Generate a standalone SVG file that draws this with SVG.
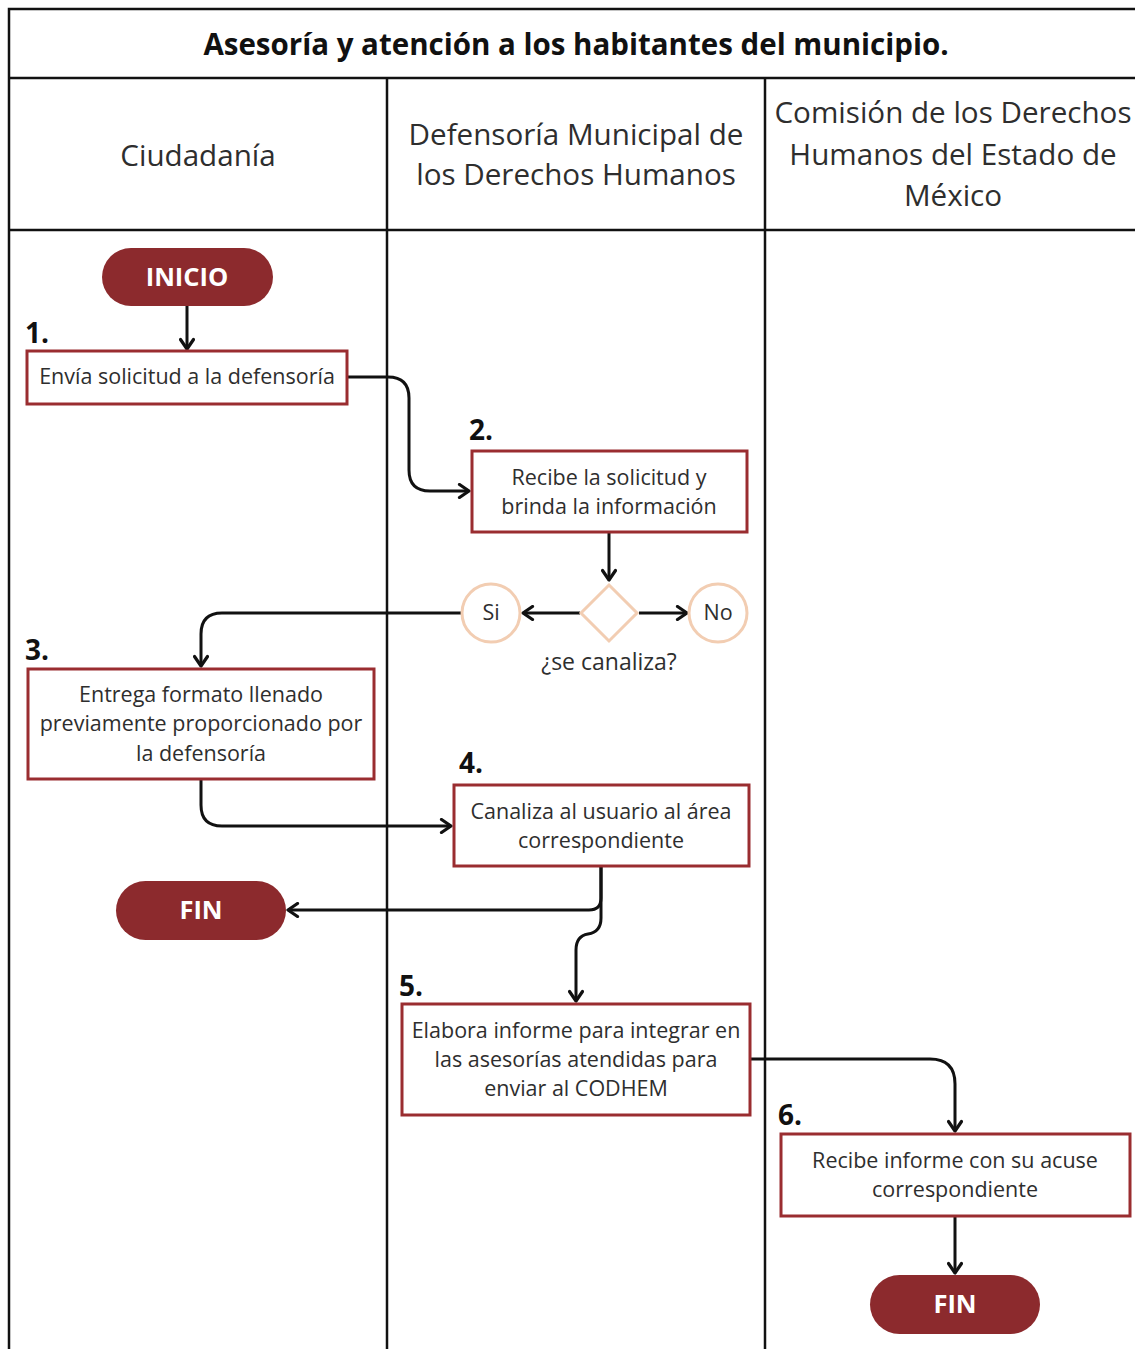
<svg xmlns="http://www.w3.org/2000/svg" width="1135" height="1349" viewBox="0 0 1135 1349">
<defs>
<style>
.frame{stroke:#111;stroke-width:2.5;fill:none}
.t{font-family:"Open Sans","Noto Sans","DejaVu Sans",sans-serif;fill:#2e2e2e}
.hdr{font-size:29.6px;text-anchor:middle}
.title{font-size:29.5px;font-weight:bold;text-anchor:middle;fill:#111}
.box{fill:#fff;stroke:#9a2d30;stroke-width:3}
.bt{font-size:21.5px;text-anchor:middle}
.num{font-size:28px;font-weight:bold;fill:#111}
.pill{fill:#8c2a2d}
.pt{font-size:25.5px;font-weight:bold;fill:#fff;text-anchor:middle}
.peach{fill:#fff;stroke:#f2cdb2;stroke-width:3}
.conn{fill:none;stroke:#111;stroke-width:3}
</style>
<marker id="ah" viewBox="0 0 14 16" refX="12" refY="8" markerWidth="14" markerHeight="16" markerUnits="userSpaceOnUse" orient="auto">
<path d="M2.5,1.5 L12,8 L2.5,14.5" fill="none" stroke="#111" stroke-width="3.2" stroke-linecap="round" stroke-linejoin="round"/>
</marker>
</defs>
<rect width="1135" height="1349" fill="#fff"/>
<g id="frame">
<path class="frame" d="M1135,9 H9 V1349 M9,78 H1135 M9,230 H1135 M387,78 V1349 M765,78 V1349"/>
<text class="t title" x="576" y="55">Asesoría y atención a los habitantes del municipio.</text>
<text class="t hdr" x="198" y="166">Ciudadanía</text>
<text class="t hdr" x="576" y="145">Defensoría Municipal de</text>
<text class="t hdr" x="576" y="185">los Derechos Humanos</text>
<text class="t hdr" x="953" y="123">Comisión de los Derechos</text>
<text class="t hdr" x="953" y="165">Humanos del Estado de</text>
<text class="t hdr" x="953" y="206">México</text>
</g>
<g id="connectors">
<path class="conn" d="M187,306 V349" marker-end="url(#ah)"/>
<path class="conn" d="M347,377 H388 Q409,377 409,398 V470 Q409,491 430,491 H469" marker-end="url(#ah)"/>
<path class="conn" d="M609,532 V580" marker-end="url(#ah)"/>
<path class="conn" d="M580,613 H523" marker-end="url(#ah)"/>
<path class="conn" d="M639,613 H687" marker-end="url(#ah)"/>
<path class="conn" d="M462,613 H222 Q201,613 201,634 V666" marker-end="url(#ah)"/>
<path class="conn" d="M201,779 V805 Q201,826 222,826 H451" marker-end="url(#ah)"/>
<path class="conn" d="M601,866 V898 Q601,910 589,910 H288" marker-end="url(#ah)"/>
<path class="conn" d="M601,866 V918 Q601,932 588,934 Q576,936 576,950 V1001" marker-end="url(#ah)"/>
<path class="conn" d="M750,1059 H930 Q955,1059 955,1084 V1131" marker-end="url(#ah)"/>
<path class="conn" d="M955,1216 V1273" marker-end="url(#ah)"/>
</g>
<g id="inicio">
<rect class="pill" x="102" y="248" width="171" height="58" rx="29"/>
<text class="t pt" x="187" y="286">INICIO</text>
</g>
<g id="step1">
<text class="t num" x="25" y="343">1.</text>
<rect class="box" x="27" y="351" width="320" height="53"/>
<text class="t bt" x="187" y="384">Envía solicitud a la defensoría</text>
</g>
<g id="step2">
<text class="t num" x="469" y="440">2.</text>
<rect class="box" x="472" y="451" width="275" height="81"/>
<text class="t bt" x="609" y="485">Recibe la solicitud y</text>
<text class="t bt" x="609" y="514">brinda la información</text>
</g>
<g id="decision">
<path class="peach" d="M609,585 L637,613 L609,641 L581,613 Z"/>
<text class="t bt" x="609" y="670" style="font-size:23px">¿se canaliza?</text>
</g>
<g id="si">
<circle class="peach" cx="491" cy="613" r="29"/>
<text class="t bt" x="491" y="620">Si</text>
</g>
<g id="no">
<circle class="peach" cx="718" cy="613" r="29"/>
<text class="t bt" x="718" y="620">No</text>
</g>
<g id="step3">
<text class="t num" x="25" y="660">3.</text>
<rect class="box" x="28" y="669" width="346" height="110"/>
<text class="t bt" x="201" y="702">Entrega formato llenado</text>
<text class="t bt" x="201" y="731">previamente proporcionado por</text>
<text class="t bt" x="201" y="761">la defensoría</text>
</g>
<g id="step4">
<text class="t num" x="459" y="773">4.</text>
<rect class="box" x="454" y="785" width="295" height="81"/>
<text class="t bt" x="601" y="819">Canaliza al usuario al área</text>
<text class="t bt" x="601" y="848">correspondiente</text>
</g>
<g id="fin1">
<rect class="pill" x="116" y="881" width="170" height="59" rx="29.5"/>
<text class="t pt" x="201" y="919">FIN</text>
</g>
<g id="step5">
<text class="t num" x="399" y="996">5.</text>
<rect class="box" x="402" y="1004" width="348" height="111"/>
<text class="t bt" x="576" y="1038">Elabora informe para integrar en</text>
<text class="t bt" x="576" y="1067">las asesorías atendidas para</text>
<text class="t bt" x="576" y="1096">enviar al CODHEM</text>
</g>
<g id="step6">
<text class="t num" x="778" y="1125">6.</text>
<rect class="box" x="781" y="1134" width="349" height="82"/>
<text class="t bt" x="955" y="1168">Recibe informe con su acuse</text>
<text class="t bt" x="955" y="1197">correspondiente</text>
</g>
<g id="fin2">
<rect class="pill" x="870" y="1275" width="170" height="59" rx="29.5"/>
<text class="t pt" x="955" y="1313">FIN</text>
</g>
</svg>
